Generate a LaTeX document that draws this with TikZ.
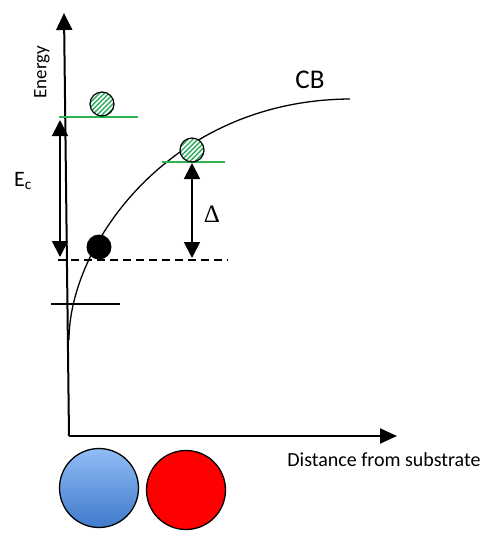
\documentclass[tikz,border=0pt]{standalone}
\usepackage{fontspec}
\setmainfont{Carlito}
\newfontfamily\deltafont{Liberation Serif}
\usetikzlibrary{arrows.meta,patterns.meta}
\definecolor{lvlgreen}{RGB}{45,180,80}
\definecolor{hatchgreen}{RGB}{40,170,90}
\definecolor{blueTop}{RGB}{146,188,246}
\definecolor{blueBot}{RGB}{63,122,203}
\tikzset{
  axis/.style={line width=2pt,-{Triangle[width=16pt,length=17pt]}},
  dbl/.style={line width=1.8pt,{Triangle[width=16pt,length=16pt]}-{Triangle[width=16pt,length=16pt]}},
  level/.style={draw=lvlgreen,line width=1.6pt},
  hatched/.style={circle,draw=black,line width=1.2pt,minimum size=24pt,inner sep=0pt,
    preaction={fill=white},pattern={Lines[angle=45,distance=3.4pt,line width=1.4pt]},pattern color=hatchgreen},
  ball/.style={circle,draw=black,line width=1.3pt,minimum size=79pt,inner sep=0pt},
  lbl/.style={inner sep=0pt}
}
\begin{document}
\begin{tikzpicture}[x=1pt,y=-1pt]
\useasboundingbox (0,0) rectangle (498,539);
% axes
\coordinate (o) at (69,436);
\coordinate (ytop) at (64,13);
\coordinate (xend) at (397,436);
\draw[axis] (o) -- (ytop);
\draw[axis,-{Triangle[width=15pt,length=17pt]}] (o) -- (xend);
\node[lbl,font=\fontsize{20}{22}\selectfont] (xl) at (384,460) {Distance from substrate};
\node[lbl,rotate=90,font=\fontsize{19}{21}\selectfont] (yl) at (42,72) {Energy};
% curve
\coordinate (c0) at (69,340);
\coordinate (c1) at (350,99);
\draw[line width=1.3pt] (c0) .. controls (69,245) and (170,100) .. (c1);
\node[lbl,font=\fontsize{27}{29}\selectfont] (cb) at (310,80) {CB};
% dashed level
\coordinate (d0) at (58,260);
\coordinate (d1) at (228,260);
\draw[line width=1.3pt,dash pattern=on 8pt off 5pt] (d0) -- (d1);
% short black level
\coordinate (s0) at (51,304);
\coordinate (s1) at (120,304);
\draw[line width=1.3pt] (s0) -- (s1);
% green levels
\coordinate (g0) at (59,117);
\coordinate (g1) at (138,117);
\draw[level] (g0) -- (g1);
\coordinate (h0) at (162,162);
\coordinate (h1) at (225,162);
\draw[level] (h0) -- (h1);
% circles
\node[hatched] (gc1) at (102,104) {};
\node[hatched] (gc2) at (192,150) {};
\node[circle,fill=black,minimum size=25pt,inner sep=0pt] (bc) at (99,247) {};
% E_c arrow
\coordinate (e0) at (60,120);
\coordinate (e1) at (60,257);
\draw[dbl] (e0) -- (e1);
\node[lbl,font=\fontsize{22}{24}\selectfont] (ec) at (23,181) {E\textsubscript{c}};
% Delta arrow
\coordinate (a0) at (192,163);
\coordinate (a1) at (192,258);
\draw[dbl] (a0) -- (a1);
\node[lbl,font=\fontsize{25}{27}\selectfont\deltafont] (dl) at (212,214) {Δ};
% atoms
\node[ball,top color=blueTop,bottom color=blueBot] (blue) at (99,488) {};
\node[ball,fill=red] (red) at (186,490) {};
\end{tikzpicture}
\end{document}
